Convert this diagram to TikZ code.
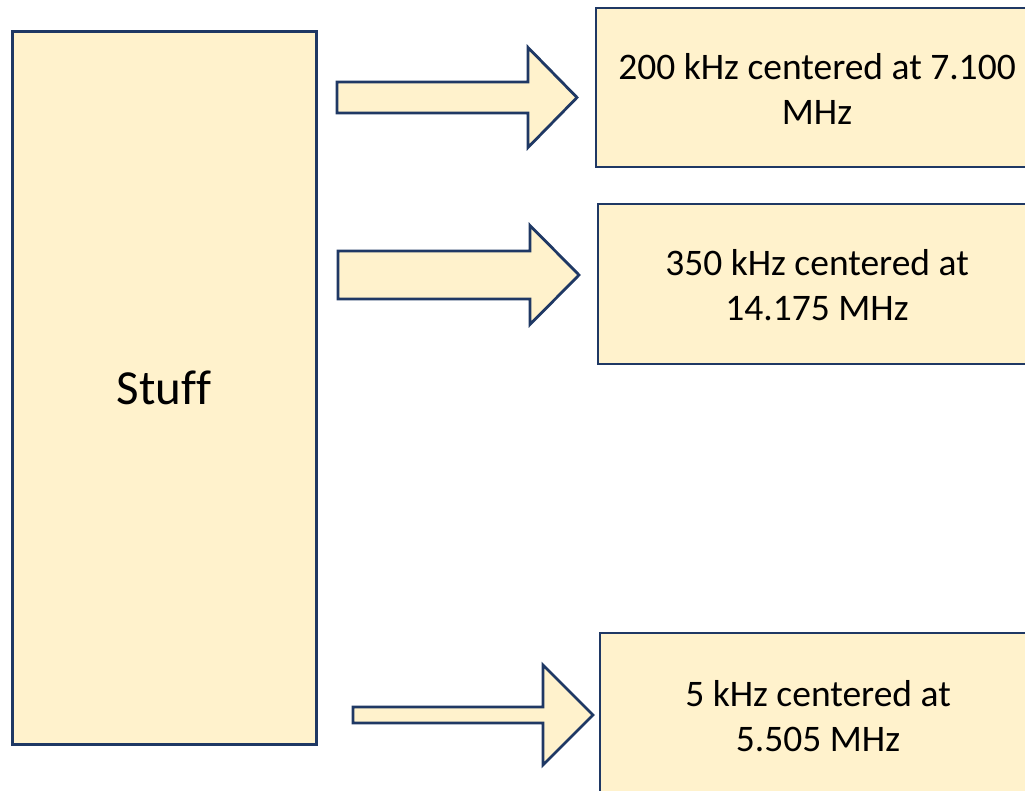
\documentclass[tikz,border=0pt]{standalone}
\usepackage{fontspec}
\setmainfont[Ligatures={NoCommon}]{Carlito}
\definecolor{boxfill}{HTML}{FFF2CC}
\definecolor{boxline}{HTML}{1F3864}
\tikzset{
  panel/.style={draw=boxline, fill=boxfill, line width=2pt},
  bigpanel/.style={draw=boxline, fill=boxfill, line width=3pt},
  blockarrow/.style={draw=boxline, fill=boxfill, line width=2.8pt, line join=miter},
  label/.style={font=\fontsize{37.5}{45}\selectfont, align=center, text=black},
}
% block arrow: tail x, head base x, tip x, centre y, half shaft, half head
\newcommand\fatarrow[6]{%
  \draw[blockarrow] (#1,#4-#5) -- (#2,#4-#5) -- (#2,#4-#6) -- (#3,#4)
    -- (#2,#4+#6) -- (#2,#4+#5) -- (#1,#4+#5) -- cycle;}
\begin{document}
\begin{tikzpicture}[x=1pt,y=-1pt]
\useasboundingbox (0,0) rectangle (1025,791);
\clip (0,0) rectangle (1025,791);

% source block
\draw[bigpanel] (12,32) rectangle (316,744);
\node[font=\fontsize{49}{59}\selectfont] (stuff) at (164,388) {Stuff};

% output blocks
\draw[panel] (596,8) rectangle (1038,167);
\node[label] (b1) at (817,89) {200 kHz centered at 7.100\\MHz};

\draw[panel] (598,204) rectangle (1037,364);
\node[label] (b2) at (817,285) {350 kHz centered at\\14.175 MHz};

\draw[panel] (600,633) rectangle (1037,800);
\node[label] (b3) at (818,716) {5 kHz centered at\\5.505 MHz};

% arrows
\fatarrow{337}{528}{577}{97.5}{15.5}{50}
\fatarrow{338}{530}{579}{275}{24}{49.5}
\fatarrow{353}{543}{593}{715}{8}{50}
\end{tikzpicture}
\end{document}
